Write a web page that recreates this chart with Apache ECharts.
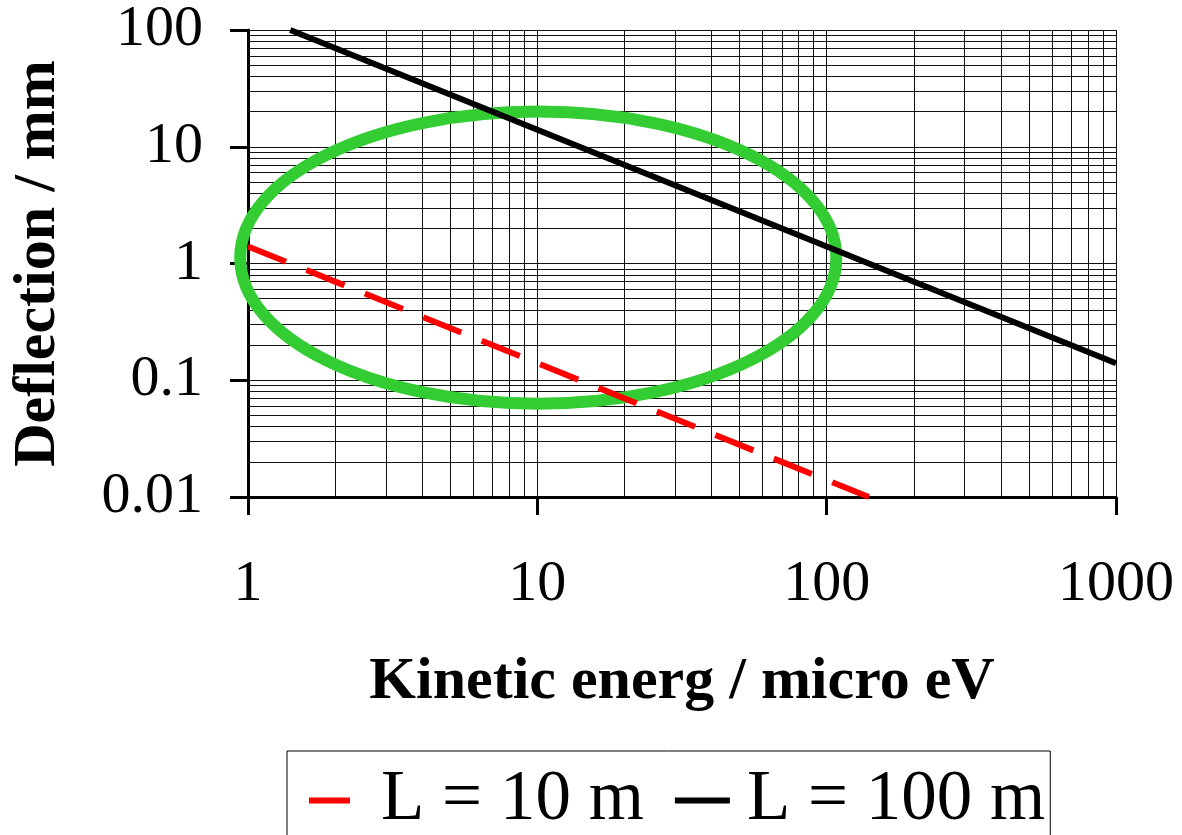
<!DOCTYPE html>
<html>
<head>
<meta charset="utf-8">
<script src="https://cdn.jsdelivr.net/npm/echarts@6/dist/echarts.min.js"></script>
<style>
  html, body { margin: 0; padding: 0; background: #fff; }
  #chart { width: 1182px; height: 835px; }
</style>
</head>
<body>
<div id="chart"></div>
<script>
// data (log-log)
var energy10 = [1, 140];
var deflect10 = [1.4, 0.01];
var energy100 = [1.4, 10, 100, 1000];
var deflect100 = [100, 14, 1.4, 0.14];
var seriesNames = ['L = 10 m', 'L = 100 m'];
var xTickLabels = ['1', '10', '100', '1000'];
var yTickLabels = ['0.01', '0.1', '1', '10', '100'];
// green ring drawn round the interesting region, as data-space bounds
var ellipseX = [0.94, 108];
var ellipseY = [0.063, 20];

var FONT = '"Liberation Serif", "Times New Roman", serif';

// minor grid lines at 2..9 of each decade
function minorLines(from, to) {
  var out = [];
  for (var d = from; d < to; d *= 10) {
    for (var m = 2; m <= 9; m++) out.push(Number((m * d).toPrecision(3)));
  }
  return out;
}
var xMinor = minorLines(1, 1000);
var yMinor = minorLines(0.01, 100);

function pickLabel(list) {
  return function (v) {
    for (var i = 0; i < list.length; i++) {
      if (Math.abs(Math.log10(+list[i]) - Math.log10(v)) < 1e-6) return list[i];
    }
    return '';
  };
}

function zip(xs, ys) {
  return xs.map(function (x, i) { return [x, ys[i]]; });
}

var gridStyle = { color: '#111', width: 1 };

var chart = echarts.init(document.getElementById('chart'));
chart.setOption({
  animation: false,
  backgroundColor: '#fff',
  grid: { left: 246, top: 30, right: 66, bottom: 338, containLabel: false },
  xAxis: {
    type: 'log', logBase: 10, min: 1, max: 1000,
    name: 'Kinetic energ / micro eV', nameLocation: 'middle', nameGap: 155,
    nameTextStyle: { fontFamily: FONT, fontSize: 60, fontWeight: 'bold', color: '#000' },
    axisLine: { lineStyle: { color: '#000', width: 3 } },
    axisTick: { show: true, inside: false, length: 18, lineStyle: { color: '#000', width: 3 } },
    axisLabel: { fontFamily: FONT, fontSize: 58, color: '#000', margin: 59, formatter: pickLabel(xTickLabels) },
    splitLine: { show: true, lineStyle: gridStyle }
  },
  yAxis: {
    type: 'log', logBase: 10, min: 0.01, max: 100,
    name: 'Deflection / mm', nameLocation: 'middle', nameGap: 180,
    nameTextStyle: { fontFamily: FONT, fontSize: 60, fontWeight: 'bold', color: '#000' },
    axisLine: { lineStyle: { color: '#000', width: 3 } },
    axisTick: { show: true, inside: false, length: 18, lineStyle: { color: '#000', width: 3 } },
    axisLabel: { fontFamily: FONT, fontSize: 58, color: '#000', margin: 45, formatter: pickLabel(yTickLabels) },
    splitLine: { show: true, lineStyle: gridStyle }
  },
  legend: {
    left: 287, top: 751,
    padding: [14, 5, 14, 19],
    itemWidth: 55, itemHeight: 6, itemGap: 28,
    borderColor: '#000', borderWidth: 1,
    itemStyle: { borderWidth: 0 },
    lineStyle: { width: 'inherit' },
    textStyle: { fontFamily: FONT, fontSize: 71, color: '#000', padding: [0, 0, 0, 12] },
    data: seriesNames
  },
  series: [
    {
      // helper series only carrying the minor grid
      type: 'line', data: [], silent: true, z: 0,
      markLine: {
        silent: true, z: 1, symbol: ['none', 'none'],
        label: { show: false }, lineStyle: { color: '#111', width: 1, type: 'solid' },
        emphasis: { disabled: true },
        data: xMinor.map(function (v) { return { xAxis: v }; })
          .concat(yMinor.map(function (v) { return { yAxis: v }; }))
      }
    },
    {
      name: seriesNames[0], type: 'line', z: 5, symbol: 'none',
      data: zip(energy10, deflect10),
      lineStyle: { color: '#ff0000', width: 6, type: [41, 22] },
      itemStyle: { color: '#ff0000' }
    },
    {
      name: seriesNames[1], type: 'line', z: 5, symbol: 'none',
      data: zip(energy100, deflect100),
      lineStyle: { color: '#000', width: 6 },
      itemStyle: { color: '#000' }
    }
  ]
});

// ring placed through the axes' own scales
var p0 = chart.convertToPixel({ gridIndex: 0 }, [ellipseX[0], ellipseY[1]]);
var p1 = chart.convertToPixel({ gridIndex: 0 }, [ellipseX[1], ellipseY[0]]);
chart.setOption({
  graphic: [{
    type: 'ellipse', z: 3, silent: true,
    shape: {
      cx: (p0[0] + p1[0]) / 2, cy: (p0[1] + p1[1]) / 2,
      rx: Math.abs(p1[0] - p0[0]) / 2, ry: Math.abs(p1[1] - p0[1]) / 2
    },
    style: { fill: null, stroke: '#33cc33', lineWidth: 12 }
  }]
});
</script>
</body>
</html>
